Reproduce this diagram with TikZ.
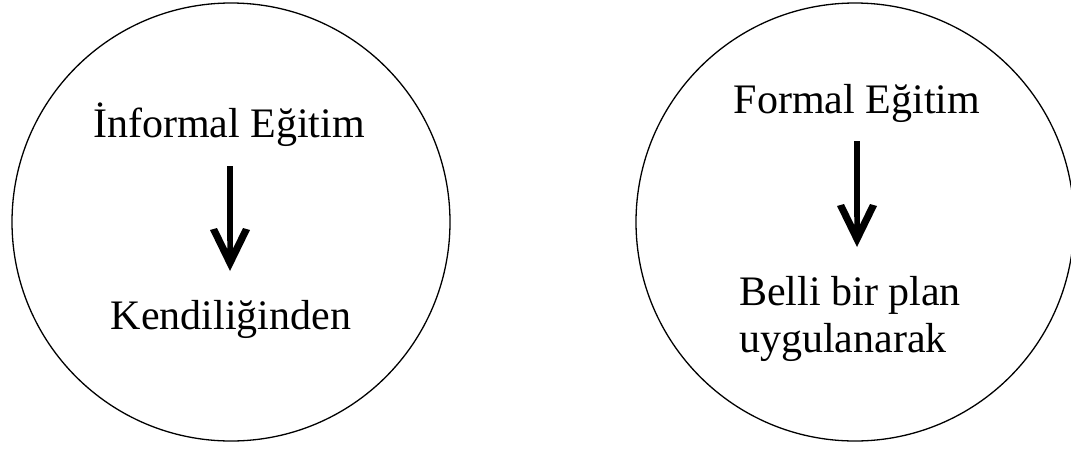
\documentclass[tikz,border=0pt]{standalone}
\usepackage{fontspec}
\setmainfont{Liberation Serif}
\usetikzlibrary{calc}
\tikzset{
  ring/.style={draw, line width=1.3pt, circle, minimum size=438pt, inner sep=0pt},
  lbl/.style={font=\fontsize{42}{48}\selectfont, inner sep=0pt},
  shaft/.style={line width=5.5pt},
  headfill/.style={fill=black},
  bighead/.pic={\fill[headfill] (0,0) -- (-20,-41) -- (-13,-43) -- (-2.75,-22) -- (-2.75,-40) -- (2.75,-40) -- (2.75,-22) -- (13,-43) -- (20,-41) -- cycle;}
}
\begin{document}
\begin{tikzpicture}[x=1pt,y=-1pt]
\useasboundingbox (0,0) rectangle (1071,451);
\node[ring] (c1) at (231,222) {};
\node[ring] (c2) at (855,222) {};
\node[lbl, anchor=base] (t1) at (229,137) {İnformal Eğitim};
\node[lbl, anchor=base] (b1) at (231,329) {Kendiliğinden};
\node[lbl, anchor=base] (t2) at (857,113) {Formal Eğitim};
\node[lbl, anchor=base west] (b2) at (739,305) {Belli bir plan};
\node[lbl, anchor=base west] (b3) at (739,352) {uygulanarak};
\coordinate (a1s) at (230,166);
\coordinate (a1e) at (230,271);
\coordinate (a2s) at (857,141);
\coordinate (a2e) at (857,247);
\draw[shaft] (a1s) -- ($(a1e)+(0,-30)$);
\draw[shaft] (a2s) -- ($(a2e)+(0,-30)$);
\pic at (a1e) {bighead};
\pic at (a2e) {bighead};
\end{tikzpicture}
\end{document}
